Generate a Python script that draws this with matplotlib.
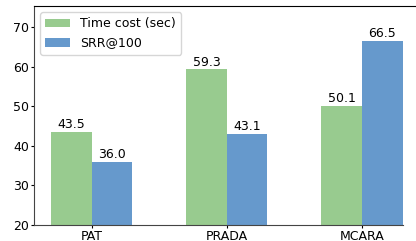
import numpy as np
import matplotlib.pyplot as plt

categories = ['PAT', 'PRADA', 'MCARA']
time_cost = [43.5, 59.3, 50.1]
srr100 = [36.0, 43.1, 66.5]
yticks = [20, 30, 40, 50, 60, 70]

fig = plt.figure(figsize=(4.16, 2.41), dpi=100)
ax = fig.add_axes([34 / 416, 16 / 241, 1 - 34 / 416 + 0.01, 219 / 241])

x = np.arange(len(categories))
w = 0.3
b1 = ax.bar(x - w / 2, time_cost, w, color='#98cb8f', label='Time cost (sec)')
b2 = ax.bar(x + w / 2, srr100, w, color='#6699cc', label='SRR@100')

for bars in (b1, b2):
    for r in bars:
        ax.text(r.get_x() + r.get_width() / 2, r.get_height() + 0.2,
                '%.1f' % r.get_height(), ha='center', va='bottom', fontsize=9)

ax.set_ylim(20, 75.3)
ax.set_xlim(-0.426, 2.43)
ax.set_yticks(yticks)
ax.set_xticks(x)
ax.set_xticklabels(categories)
ax.tick_params(labelsize=9, length=2.5)
ax.tick_params(axis='x', pad=1)
ax.tick_params(axis='y', pad=1)

ax.spines['right'].set_visible(False)
ax.spines['left'].set_color('#444444')
ax.spines['bottom'].set_color('#444444')
ax.spines['bottom'].set_bounds(-0.426, 2.3)

ax.legend(loc='upper left', fontsize=9)

fig.savefig('out.png', dpi=100)
